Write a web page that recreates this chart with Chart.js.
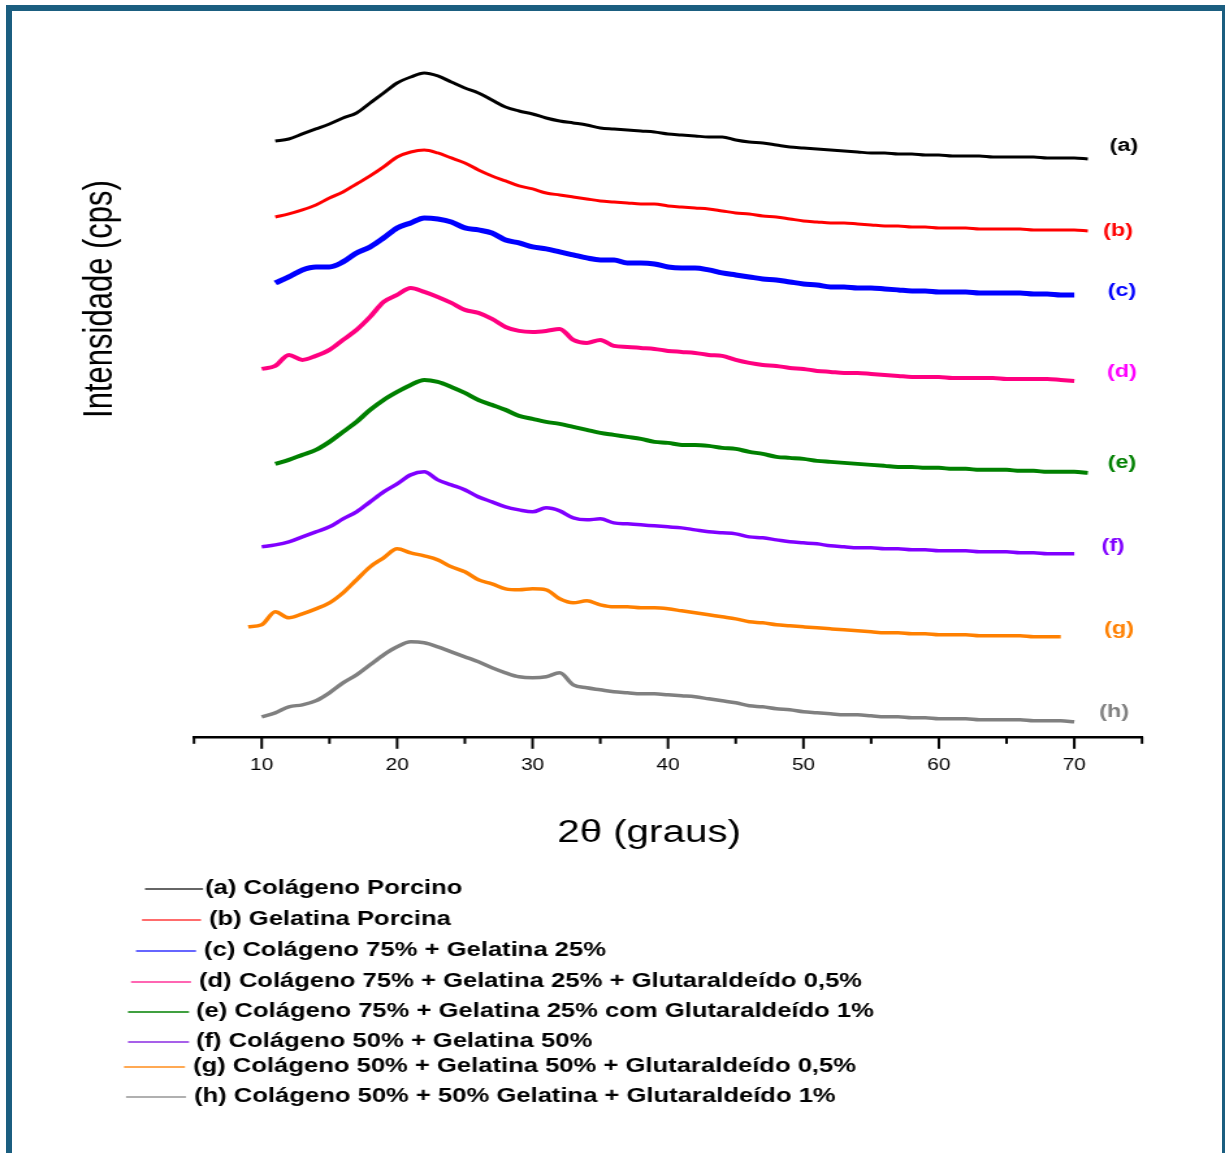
<!DOCTYPE html>
<html>
<head>
<meta charset="utf-8">
<script src="https://cdn.jsdelivr.net/npm/chart.js@4.4.1/dist/chart.umd.min.js"></script>
<style>
  html, body { margin: 0; padding: 0; background: #fff; overflow: hidden; }
  #wrap { position: absolute; left: 0; top: 0; width: 942px; height: 1153px; transform: scaleX(1.30042); transform-origin: 0 0; }
  #frame { position: absolute; left: 6px; top: 5px; width: 1210px; height: 1200px; border: 6px solid #1b5e80; pointer-events: none; }
</style>
</head>
<body>
<div id="wrap"><canvas id="xrd-chart"></canvas></div>
<div id="frame"></div>
<script>
// 2theta grid (graus)
const twoTheta = [9, 10, 11, 12, 13, 14, 15, 16, 17, 18, 19, 20, 21, 22, 23, 24, 25, 26, 27, 28, 29, 30,
  31, 32, 33, 34, 35, 36, 37, 38, 39, 40, 41, 42, 43, 44, 45, 46, 47, 48, 49, 50,
  51, 52, 53, 54, 55, 56, 57, 58, 59, 60, 61, 62, 63, 64, 65, 66, 67, 68, 69, 70, 71];

// intensities (cps, arbitrary, curves stacked)
const serieA = [null, null, 596, 598, 603, 608, 613, 619, 624, 634, 644, 654, 660, 664, 661, 655, 649, 644, 637, 630, 626, 623,
  619, 616, 614, 612, 609, 608, 607, 606, 605, 603, 602, 601, 600, 600, 597, 595, 594, 592, 590, 589,
  588, 587, 586, 585, 584, 584, 583, 583, 582, 582, 581, 581, 581, 580, 580, 580, 580, 579, 579, 579, 578];
const serieB = [null, null, 520, 523, 527, 532, 539, 545, 553, 561, 570, 580, 585, 587, 584, 579, 574, 567, 561, 556, 551, 548,
  544, 542, 540, 538, 536, 535, 534, 533, 533, 531, 530, 529, 528, 526, 524, 523, 521, 520, 518, 516,
  515, 514, 514, 513, 512, 511, 511, 510, 510, 509, 509, 509, 508, 508, 508, 508, 507, 507, 507, 507, 506];
const serieC = [null, null, 454, 460, 467, 470, 470, 475, 484, 490, 499, 509, 514, 519, 518, 515, 509, 507, 504, 497, 494, 490,
  488, 485, 482, 479, 477, 477, 474, 474, 473, 470, 469, 469, 467, 464, 462, 460, 458, 457, 455, 453,
  452, 450, 450, 449, 449, 448, 447, 446, 446, 445, 445, 445, 444, 444, 444, 444, 443, 443, 442, 442, null];
const serieD = [null, 368, 371, 382, 377, 381, 387, 397, 407, 420, 435, 442, 449, 445, 440, 434, 427, 424, 418, 410, 406, 405,
  406, 408, 397, 394, 397, 391, 390, 389, 388, 386, 385, 384, 382, 381, 377, 374, 372, 371, 369, 368,
  366, 365, 364, 364, 363, 362, 361, 360, 360, 360, 359, 359, 359, 359, 358, 358, 358, 358, 357, 356, null];
const serieE = [null, null, 273, 277, 282, 287, 295, 305, 315, 327, 337, 345, 352, 357, 355, 350, 344, 337, 332, 327, 321, 318,
  315, 313, 310, 307, 304, 302, 300, 298, 295, 294, 292, 292, 291, 289, 288, 285, 283, 280, 279, 278,
  276, 275, 274, 273, 272, 271, 270, 270, 269, 269, 268, 268, 267, 267, 267, 266, 266, 265, 265, 265, 264];
const serieF = [null, 190, 192, 195, 200, 205, 210, 218, 225, 235, 245, 253, 262, 265, 257, 252, 247, 240, 235, 230, 227, 225,
  229, 226, 219, 217, 218, 214, 213, 212, 211, 210, 209, 207, 205, 204, 203, 200, 199, 197, 195, 194,
  193, 191, 190, 189, 189, 188, 188, 187, 187, 186, 186, 186, 185, 185, 185, 184, 184, 183, 183, 183, null];
const serieG = [110, 112, 125, 119, 123, 128, 134, 144, 157, 170, 179, 188, 184, 181, 177, 170, 165, 157, 153, 148, 147, 148,
  147, 138, 134, 136, 132, 130, 130, 129, 129, 128, 126, 124, 122, 120, 118, 115, 114, 112, 111, 110,
  109, 108, 107, 106, 105, 104, 104, 103, 103, 102, 102, 102, 101, 101, 101, 101, 100, 100, 100, null, null];
const serieH = [null, 20, 24, 30, 32, 36, 44, 54, 62, 72, 82, 90, 95, 94, 90, 85, 80, 75, 69, 64, 60, 59,
  60, 64, 52, 49, 47, 45, 44, 43, 43, 42, 41, 40, 38, 36, 34, 31, 30, 28, 27, 25,
  24, 23, 22, 22, 21, 20, 20, 19, 19, 18, 18, 18, 17, 17, 17, 17, 16, 16, 16, 15, null];

const shortNames = ["(a)", "(b)", "(c)", "(d)", "(e)", "(f)", "(g)", "(h)"];
const legendNames = [
  "(a) Colágeno Porcino",
  "(b) Gelatina Porcina",
  "(c) Colágeno 75% + Gelatina 25%",
  "(d) Colágeno 75% + Gelatina 25% + Glutaraldeído 0,5%",
  "(e) Colágeno 75% + Gelatina 25% com Glutaraldeído 1%",
  "(f) Colágeno 50% + Gelatina 50%",
  "(g) Colágeno 50% + Gelatina 50% + Glutaraldeído 0,5%",
  "(h) Colágeno 50% + 50% Gelatina + Glutaraldeído 1%"
];
const series = [serieA, serieB, serieC, serieD, serieE, serieF, serieG, serieH];
const lineColors = ["#000000", "#ff0000", "#0000ff", "#ff0080", "#008000", "#8000ff", "#ff8000", "#808080"];
const labelColors = ["#000000", "#ff0000", "#0000ff", "#ff00ff", "#008000", "#8000ff", "#ff8000", "#808080"];
const keyColors = ["#333333", "#ff3b3b", "#3333ff", "#ff3399", "#008000", "#8a2be2", "#ff8c1a", "#b0b0b0"];
const lineWidths = [3, 3, 5, 4, 4, 3.5, 3.5, 3.5];

const sx = 1225 / 942; // picture is stretched horizontally

// where the side labels and the legend sit (reference pixels)
const sideLabelPos = [[1124, 146], [1118, 231], [1122, 291], [1122, 372], [1122, 463], [1113, 546], [1119, 629], [1114, 712]];
const keyPos = [
  [145, 203, 889, 205], [142, 201, 920, 209], [136, 196, 951, 204], [131, 191, 982, 199],
  [128, 189, 1012, 196], [128, 189, 1042, 196], [124, 185, 1067, 193], [126, 186, 1097, 194]
];

const decor = {
  id: 'decor',
  afterDraw(chart) {
    const ctx = chart.ctx;
    const xs = chart.scales.x;
    ctx.save();

    // tick marks, long on the tens
    ctx.strokeStyle = '#000';
    ctx.lineWidth = 2;
    xs.ticks.forEach(t => {
      const px = xs.getPixelForValue(t.value);
      const len = t.value % 10 === 0 ? 12 : 7;
      ctx.beginPath();
      ctx.moveTo(px, xs.top);
      ctx.lineTo(px, xs.top + len);
      ctx.stroke();
    });

    // side labels (a)..(h)
    ctx.font = 'bold 18px "Liberation Sans", Arial, sans-serif';
    ctx.textAlign = 'center';
    ctx.textBaseline = 'middle';
    sideLabelPos.forEach((p, i) => {
      ctx.fillStyle = labelColors[i];
      ctx.fillText(shortNames[i], p[0] / sx, p[1]);
    });

    // axis titles
    ctx.fillStyle = '#000';
    ctx.font = '31px "Liberation Sans", Arial, sans-serif';
    ctx.fillText('2\u03b8 (graus)', 649 / sx, 833);

    ctx.save();
    ctx.translate(101 / sx, 299);
    ctx.rotate(-Math.PI / 2);
    ctx.fillText('Intensidade (cps)', 0, 0);
    ctx.restore();

    // legend
    ctx.font = 'bold 19.7px "Liberation Sans", Arial, sans-serif';
    ctx.textAlign = 'left';
    keyPos.forEach((k, i) => {
      ctx.strokeStyle = keyColors[i];
      ctx.lineWidth = i === 7 ? 2 : 1.3;
      ctx.beginPath();
      ctx.moveTo(k[0] / sx, k[2]);
      ctx.lineTo(k[1] / sx, k[2]);
      ctx.stroke();
      ctx.fillStyle = '#000';
      ctx.fillText(legendNames[i], k[3] / sx, k[2]);
    });
    ctx.restore();
  }
};

new Chart(document.getElementById("xrd-chart"), {
    type: 'line',
    data: {
        datasets: series.map((arr, i) => ({
            label: legendNames[i],
            data: twoTheta.map((t, j) => ({ x: t, y: arr[j] })),
            borderColor: lineColors[i],
            borderWidth: lineWidths[i],
            pointRadius: 0,
            cubicInterpolationMode: 'monotone',
            spanGaps: false
        }))
    },
    options: {
        responsive: true,
        maintainAspectRatio: false,
        animation: false,
        layout: { padding: { left: 194 / sx, right: 942 - 1142 / sx, top: 17, bottom: 359 } },
        plugins: {
            legend: { display: false },
            title: { display: false },
            tooltip: { enabled: false }
        },
        scales: {
            x: {
                type: 'linear',
                min: 5,
                max: 75,
                border: { display: true, color: '#000', width: 2.5 },
                grid: { display: false, drawTicks: false },
                ticks: {
                    stepSize: 5,
                    autoSkip: false,
                    maxRotation: 0,
                    padding: 19,
                    color: '#000',
                    font: { family: '"Liberation Sans", Arial, sans-serif', size: 16 },
                    callback: v => (v % 10 === 0 && v >= 10 && v <= 70) ? String(v) : ''
                }
            },
            y: {
                display: false,
                min: 0,
                max: 720
            }
        }
    },
    plugins: [decor]
});
</script>
</body>
</html>
